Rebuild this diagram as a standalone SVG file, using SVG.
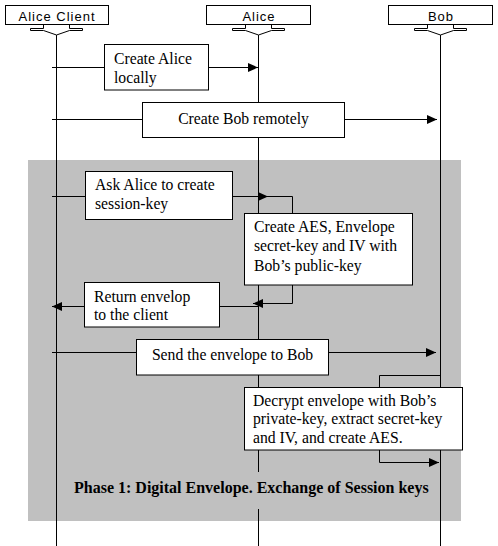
<svg xmlns="http://www.w3.org/2000/svg" width="498" height="546" viewBox="0 0 498 546">
<defs>
<style>
.hbox{fill:#fff;stroke:#000;stroke-width:1}
.htxt{font-family:"Liberation Sans",Arial,sans-serif;font-size:13px;letter-spacing:1px;text-anchor:middle;fill:#000}
.life{stroke:#000;stroke-width:1;fill:none}
.conn{stroke:#000;stroke-width:1;fill:none}
.box{fill:#fff;stroke:#000;stroke-width:1}
.txt{font-family:"Liberation Serif","Times New Roman",serif;font-size:15.7px;fill:#000}
.mid{text-anchor:middle}
.lbl{font-family:"Liberation Serif","Times New Roman",serif;font-size:16px;font-weight:bold;fill:#000}
</style>
<marker id="ah" markerUnits="userSpaceOnUse" markerWidth="10" markerHeight="10" refX="10" refY="4.5" orient="auto">
<path d="M0,0 L10,4.5 L0,9 z" fill="#000"/>
</marker>
</defs>
<rect x="0" y="0" width="498" height="546" fill="#fff"/>
<rect id="phase-bg" x="28" y="160" width="433" height="361" fill="#c0c0c0"/>

<g id="alice-client">
<rect class="hbox" x="5.5" y="5.5" width="103" height="19"/>
<text class="htxt" x="57" y="21">Alice Client</text>
<path class="life" d="M43.5,24.5 V28.5 H30.5 V30.5 H43.5 L56.5,35 L69.5,30.5 H82.5 V28.5 H69.5 V24.5"/>
<line class="life" x1="56.5" y1="35" x2="56.5" y2="546"/>
</g>
<g id="alice">
<rect class="hbox" x="206.5" y="5.5" width="104" height="19"/>
<text class="htxt" x="259" y="21">Alice</text>
<path class="life" d="M245.5,24.5 V28.5 H232.5 V30.5 H245.5 L258.5,35 L271.5,30.5 H284.5 V28.5 H271.5 V24.5"/>
<line class="life" x1="258.5" y1="35" x2="258.5" y2="546"/>
</g>
<g id="bob">
<rect class="hbox" x="388.5" y="5.5" width="104" height="19"/>
<text class="htxt" x="441" y="21">Bob</text>
<path class="life" d="M427.5,24.5 V28.5 H414.5 V30.5 H427.5 L440.5,35 L453.5,30.5 H466.5 V28.5 H453.5 V24.5"/>
<line class="life" x1="440.5" y1="35" x2="440.5" y2="546"/>
</g>

<g id="connectors">
<line class="conn" x1="52" y1="67.5" x2="258" y2="67.5" marker-end="url(#ah)"/>
<line class="conn" x1="52" y1="119.5" x2="437" y2="119.5" marker-end="url(#ah)"/>
<line class="conn" x1="52" y1="196.5" x2="268" y2="196.5" marker-end="url(#ah)"/>
<path class="conn" d="M268,196.5 H292.5 V213"/>
<path class="conn" d="M292.5,285 V303.5 H253" marker-end="url(#ah)"/>
<line class="conn" x1="258" y1="306.5" x2="52" y2="306.5" marker-end="url(#ah)"/>
<line class="conn" x1="52" y1="352.5" x2="436" y2="352.5" marker-end="url(#ah)"/>
<path class="conn" d="M440.5,375.5 H379.5 V387"/>
<path class="conn" d="M379.5,450 V462.5 H439" marker-end="url(#ah)"/>
</g>

<g id="create-alice">
<rect class="box" x="104.5" y="44.5" width="104" height="45.5"/>
<text class="txt" x="114" y="63.5">Create Alice</text>
<text class="txt" x="114" y="82.5">locally</text>
</g>
<g id="create-bob">
<rect class="box" x="142.5" y="102.5" width="202" height="35"/>
<text class="txt mid" x="243.5" y="123.5">Create Bob remotely</text>
</g>
<g id="ask-alice">
<rect class="box" x="85.5" y="171.5" width="147" height="48"/>
<text class="txt" x="95" y="190">Ask Alice to create</text>
<text class="txt" x="95" y="208.5">session-key</text>
</g>
<g id="create-aes">
<rect class="box" x="244.5" y="213.5" width="168" height="71.5"/>
<text class="txt" x="254" y="232">Create AES, Envelope</text>
<text class="txt" x="254" y="251">secret-key and IV with</text>
<text class="txt" x="254" y="270.5">Bob’s public-key</text>
</g>
<g id="return-envelop">
<rect class="box" x="84.5" y="282.5" width="135" height="44.5"/>
<text class="txt" x="94" y="301.5">Return envelop</text>
<text class="txt" x="94" y="320">to the client</text>
</g>
<g id="send-envelope">
<rect class="box" x="136.5" y="339.5" width="192" height="35.5"/>
<text class="txt mid" x="232.5" y="359.5">Send the envelope to Bob</text>
</g>
<g id="decrypt">
<rect class="box" x="244.5" y="387.5" width="218" height="62.5"/>
<text class="txt" x="253" y="405.5">Decrypt envelope with Bob’s</text>
<text class="txt" x="253" y="424">private-key, extract secret-key</text>
<text class="txt" x="253" y="442.5">and IV, and create AES.</text>
</g>
<g id="phase-label">
<rect x="66" y="472" width="370" height="37" fill="#c0c0c0"/>
<text class="lbl" x="74" y="492.5">Phase 1: Digital Envelope. Exchange of Session keys</text>
</g>
</svg>
